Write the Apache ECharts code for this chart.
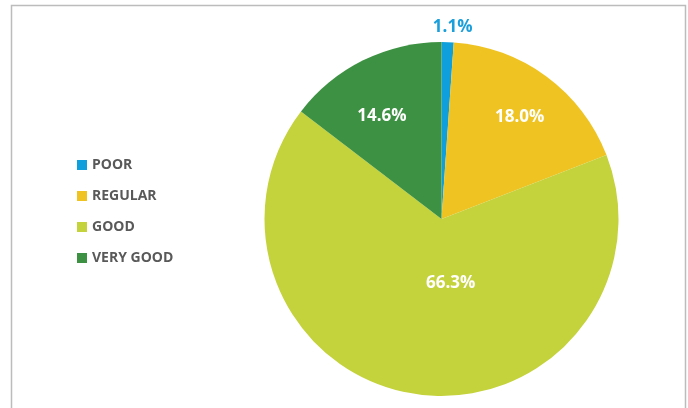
<!DOCTYPE html>
<html>
<head>
<meta charset="utf-8">
<script src="https://cdn.jsdelivr.net/npm/echarts@6/dist/echarts.min.js"></script>
<style>
  html, body { margin: 0; padding: 0; background: #fff; }
  #main { width: 688px; height: 408px; }
</style>
</head>
<body>
<div id="main"></div>
<script>
var categories = ['POOR', 'REGULAR', 'GOOD', 'VERY GOOD'];
var shares = [1.1, 18.0, 66.3, 14.6];
var colors = ['#0f9fdc', '#eec322', '#c4d23b', '#3d9142'];
// label nudges so the text sits where the original puts it
var labelOffsets = [[8, -100], [24, -28], [22, -26], [-19, -21]];

var chart = echarts.init(document.getElementById('main'));

var pieData = categories.map(function (name, i) {
  return {
    name: name,
    value: shares[i],
    itemStyle: { color: colors[i] },
    label: {
      offset: labelOffsets[i],
      color: i === 0 ? '#1a9fdb' : '#ffffff'
    }
  };
});

chart.setOption({
  backgroundColor: '#ffffff',
  animation: false,
  graphic: [{
    type: 'rect',
    shape: { x: 11.5, y: 5.5, width: 674, height: 420 },
    style: { fill: 'none', stroke: '#bcbcbc', lineWidth: 1.5 },
    silent: true
  }],
  legend: {
    orient: 'vertical',
    left: 77,
    top: 158,
    padding: 0,
    itemWidth: 10,
    itemHeight: 10,
    itemGap: 17,
    icon: 'rect',
    data: categories,
    textStyle: {
      color: '#595959',
      fontFamily: 'Open Sans',
      fontWeight: 'bold',
      fontSize: 14
    }
  },
  series: [{
    type: 'pie',
    center: [441.5, 219],
    radius: [0, 177],
    startAngle: 90,
    clockwise: true,
    avoidLabelOverlap: false,
    label: {
      show: true,
      position: 'inside',
      formatter: function (p) { return p.value.toFixed(1) + '%'; },
      fontFamily: 'Open Sans',
      fontWeight: 'bold',
      fontSize: 17
    },
    labelLine: { show: false },
    itemStyle: { borderWidth: 0 },
    emphasis: { disabled: true },
    data: pieData
  }]
});
</script>
</body>
</html>
